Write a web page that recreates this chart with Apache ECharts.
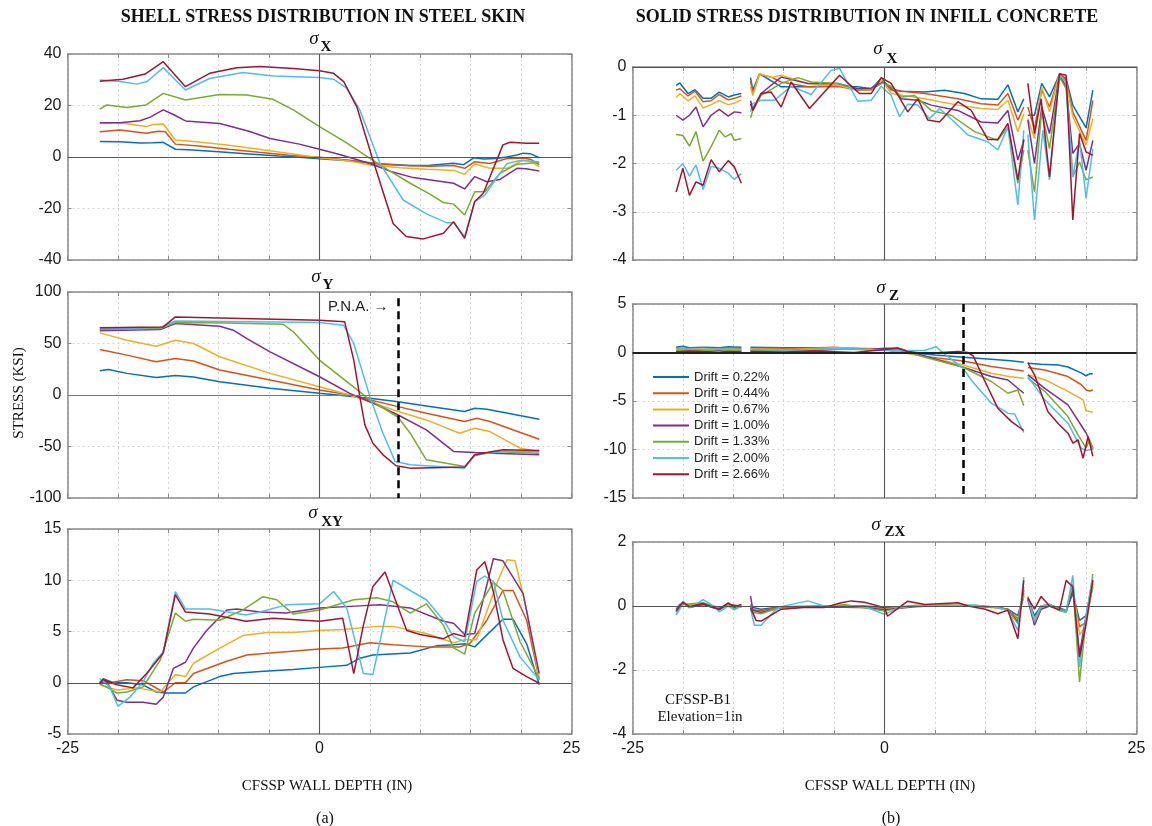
<!DOCTYPE html>
<html><head><meta charset="utf-8">
<script src="https://cdn.jsdelivr.net/npm/echarts@6/dist/echarts.min.js"></script>
<style>html,body{margin:0;padding:0;background:#fff}#main{width:1152px;height:826px}</style>
</head><body><div id="main"></div>
<script>
const DRIFTS = ['Drift = 0.22%','Drift = 0.44%','Drift = 0.67%','Drift = 1.00%','Drift = 1.33%','Drift = 2.00%','Drift = 2.66%'];
const COLORS = ['#0072BD','#D95319','#EDB120','#7E2F8E','#77AC30','#4DBEEE','#A2142F'];
const X_TICK_LABELS = [-25, 0, 25];
const PNA_DEPTH = 7.8;
const GAP = null;

// Shell (steel skin) sigma X
const shellSX = [
 [[-21.8,6.0],[-19.8,5.9],[-17.8,5.4],[-16.5,5.5],[-15.5,5.7],[-14.3,3.0],[-13,2.8],[-10,2.0],[-7,1.2],[-4,0.4],[-2,-0.1],[0,-0.7],[3,-1.5],[6,-2.6],[9,-3.3],[11,-3.2],[13.3,-2.4],[14.3,-3.0],[15.3,-0.3],[16.3,-0.8],[17.5,-0.6],[18.6,0],[19.6,0.8],[20.2,1.5],[20.9,1.3],[21.8,-0.3]],
 [[-21.8,9.8],[-19.8,10.5],[-17.2,9.2],[-16,10.0],[-15.3,9.8],[-14.3,5.0],[-12,4.3],[-9,3.0],[-6,1.8],[-3,0.7],[0,-0.1],[3,-1.3],[6,-2.8],[9,-3.4],[11,-3.6],[13.3,-3.3],[14.4,-4.4],[15.4,-1.8],[16.9,-2.5],[18.6,-0.6],[20.2,-0.4],[21,-1.0],[21.8,-3.0]],
 [[-21.8,13.1],[-19.8,13.3],[-17.2,11.8],[-16.5,12.6],[-15.5,12.8],[-14.3,6.6],[-12,5.8],[-9,4.6],[-6,3.0],[-3,1.4],[0,-0.3],[3,-1.6],[5,-3.1],[8,-4.2],[10.6,-4.8],[13.3,-5.2],[14.4,-6.7],[15.4,-2.7],[16.9,-4.4],[18.6,-4.4],[20.2,-1.2],[21,-1.8],[21.8,-3.8]],
 [[-21.8,13.3],[-19.8,13.3],[-17.8,14.1],[-16.8,15.5],[-15.5,18.3],[-14.5,16.5],[-13.3,14.0],[-9.9,13.0],[-7,10],[-4.9,7.2],[-2,5],[0,3.0],[2,1],[5,-2.5],[7,-5.5],[9.3,-8.0],[13.3,-10.2],[14.4,-12.4],[15.4,-7.6],[16.6,-9.6],[17.9,-8.7],[19.6,-4.4],[20.5,-4.6],[21.8,-5.4]],
 [[-21.8,18.6],[-21.1,20.2],[-19.1,19.2],[-17.2,20.2],[-15.5,24.7],[-13.3,22.1],[-9.9,24.3],[-7.2,24.1],[-4.6,22.4],[-2.6,18.3],[0,11.8],[2.5,6],[5,-0.5],[7,-5.5],[9,-10.2],[11,-14.5],[12.3,-17.7],[13.3,-18.3],[14.4,-22.5],[15.4,-13.5],[16.4,-13.5],[17.9,-6.3],[19.6,-2.8],[21.8,-2.1]],
 [[-21.8,29.9],[-19.8,29.3],[-18.1,28.3],[-17.1,29.3],[-15.5,34.7],[-13.3,26],[-10.9,30.5],[-7.6,32.8],[-4.6,31.5],[0,30.9],[1.4,30.2],[2.7,26.7],[4,18.3],[6,-2.5],[8.3,-16.7],[10.6,-22.1],[12.6,-25.5],[13.3,-25.5],[14.4,-30.9],[15.4,-17.3],[16.4,-14.8],[18.6,-2.5],[19.9,-1.4],[21.8,-1.8]],
 [[-21.8,29.4],[-19.5,30.2],[-17.3,32.2],[-15.5,37],[-13.3,27.3],[-10.9,32.5],[-8.2,34.7],[-5.9,35.1],[-2.6,34.4],[0,33.5],[1.4,32.5],[2.4,29.3],[3.7,19.5],[5.2,0.1],[7.3,-25.8],[8.6,-30.9],[10.3,-31.8],[12.3,-29.6],[13.3,-25.1],[14.4,-31.6],[15.4,-17.3],[16.25,-14.1],[18.2,4.7],[18.9,5.7],[20.55,5.3],[21.8,5.3]]
];

// Shell sigma Y
const shellSY = [
 [[-21.8,23.5],[-20.95,24.8],[-19.1,21],[-16.2,17.1],[-14.3,19],[-12.5,17.5],[-9.9,12.9],[-4.9,6.5],[0,1.6],[5,-3.2],[7.8,-6.5],[10.6,-10.6],[14.4,-16.1],[15.4,-12.9],[16.6,-13.9],[21.8,-23.5]],
 [[-21.8,44.2],[-19.1,38.7],[-16.2,32.3],[-14.3,35.5],[-12.5,33],[-9.9,24.2],[-4.9,14.5],[0,4.8],[3,0],[7.8,-11.3],[10.6,-17.7],[14.4,-25.8],[15.6,-22.6],[16.9,-25.8],[21.8,-42.9]],
 [[-21.8,60.3],[-19.1,53.2],[-16.2,47.4],[-14.3,53.2],[-12.5,50],[-9.9,37.1],[-4.9,21],[0,8.1],[3,0],[7.8,-16.1],[10.6,-24.2],[13.9,-37.1],[15.4,-32.3],[16.9,-35.5],[19.9,-51.6],[21.8,-54.8]],
 [[-21.8,62.3],[-15.8,63.5],[-14.3,69.4],[-9.9,66.8],[-8.55,62.9],[-7.2,54.8],[-4.9,41.9],[0,17.7],[3,1.6],[5,-6.5],[7.8,-19.4],[10.6,-33.9],[13.3,-54.8],[15.4,-55.8],[17.25,-56.5],[21.8,-58.1]],
 [[-21.8,63.5],[-15.8,64.5],[-14.3,70.3],[-9.2,70],[-3.6,68.7],[-2.6,61.3],[0,33.9],[5,-4.8],[7.8,-21.6],[9,-37.1],[10.6,-62.9],[14.4,-69.4],[15.4,-59],[17.25,-54.8],[21.8,-56.5]],
 [[-21.8,64.5],[-15.8,65.5],[-14.3,71.9],[0,70.3],[2.4,67.7],[3.4,50],[5,-1.6],[6.3,-37.1],[7.5,-64.5],[9,-67.7],[14.4,-71],[15.4,-58],[18.2,-54.8],[21.8,-54.8]],
 [[-21.8,65.2],[-15.5,66.1],[-14.3,75.8],[0,72.6],[2.5,71],[3.4,33.9],[4.0,-1.6],[4.5,-29],[5.3,-46.8],[6.3,-58.1],[7.6,-68.7],[9,-71],[14.4,-70],[15.4,-58],[18.2,-53.2],[21.8,-53.9]]
];

// Shell sigma XY
const shellSXY = [
 [[-21.8,0],[-21.45,0.4],[-20.45,0],[-19.1,0],[-17.5,-0.2],[-16.2,-0.9],[-15.2,-1.0],[-13.3,-1.0],[-12.5,-0.4],[-9.9,0.6],[-8.55,0.9],[-5.9,1.1],[-2.6,1.3],[0,1.5],[2.7,1.7],[4,2.4],[5.3,2.7],[9,2.9],[11.6,3.6],[13.3,3.7],[14.4,3.8],[15.4,3.5],[18.2,6.2],[19.2,6.2],[20.55,3.8],[21.8,-0.2]],
 [[-21.8,0.1],[-20.8,0],[-19.1,0.3],[-17.5,0.2],[-15.5,-0.9],[-14.3,0],[-13.3,0],[-12.5,0.9],[-9.2,2.1],[-7.2,2.7],[-4.9,2.9],[0,3.3],[2.3,3.4],[5,3.9],[7.3,3.7],[10.6,3.5],[13.9,3.5],[14.9,3.8],[16.6,6.1],[18.2,9.0],[19.2,9.0],[20.55,6.1],[21.8,0.3]],
 [[-21.8,-0.2],[-20.1,-0.7],[-18.1,-0.5],[-15.8,-0.9],[-14.3,0.8],[-13.3,0.6],[-12.5,1.9],[-10.2,3.2],[-7.6,4.6],[-5.2,4.9],[-2.6,4.9],[0,5.1],[2.3,5.2],[5.7,5.5],[7.3,5.5],[10.6,4.8],[13.3,3.9],[14.4,4.2],[15.6,4.2],[17.6,9.7],[18.6,12],[19.4,11.9],[20.55,7.1],[21.8,0.4]],
 [[-21.8,0],[-21.1,0.1],[-20.1,-1.7],[-19.1,-1.9],[-17.5,-1.9],[-16.2,-2.1],[-15.5,-1.4],[-14.5,1.4],[-13.3,2.0],[-12.5,3.4],[-11.2,5.1],[-9.2,7.1],[-8.2,7.2],[-5.9,6.9],[-3.3,6.8],[0,7.3],[4,7.5],[6,7.6],[9,7.3],[12.3,6.0],[13.3,5.8],[14.4,4.7],[15.4,4.8],[17.25,12.1],[18.2,11.9],[20.2,8.7],[21.8,0.9]],
 [[-21.8,-0.1],[-20.8,-0.6],[-20.1,-1.0],[-19.1,-0.9],[-17.5,-0.4],[-15.8,2.2],[-14.3,6.8],[-13.3,6.0],[-12.5,6.2],[-9.9,6.1],[-7.6,7.1],[-5.6,8.4],[-4.25,8.1],[-2.6,6.7],[0,7.1],[3.4,8.1],[5.7,8.3],[7.3,7.9],[9,6.8],[10.6,7.7],[12.3,5.6],[13.3,3.4],[14.4,2.8],[15.4,6.8],[17.25,9.8],[18.2,9.0],[19.9,4.0],[21.8,0.4]],
 [[-21.8,0.4],[-20.8,-0.4],[-20.0,-2.3],[-18.8,-1.4],[-17.5,0.1],[-16.5,1.9],[-15.5,3.0],[-14.3,8.9],[-13.3,7.2],[-10.9,7.2],[-7.3,6.6],[-5.9,6.9],[-3.3,7.6],[0,7.7],[1.4,8.9],[2.7,7.3],[4.35,0.9],[5.3,0.8],[7.3,10.0],[9,9.0],[10.6,8.1],[12.3,6.1],[13.3,4.5],[14.4,4.0],[15.6,9.9],[16.4,10.4],[17.25,9.9],[18.2,6.1],[19.9,2.5],[21.8,0.3]],
 [[-21.8,0],[-21.45,0.3],[-20.1,-0.2],[-18.5,-0.5],[-17.15,0.9],[-15.5,2.9],[-14.3,8.6],[-13.3,6.9],[-10.9,6.7],[-7.3,6.0],[-4.6,6.3],[0,6.0],[2.3,6.3],[3.4,0.9],[4.35,5.6],[5.3,9.4],[6.5,10.8],[8.65,5.1],[10,4.7],[12.3,4.3],[13.3,4.8],[14.4,4.5],[15.6,11.0],[16.4,11.8],[17.25,8.9],[18.2,4.2],[19.2,1.4],[20.55,0.6],[21.8,-0.05]]
];

// Solid (infill concrete) sigma X
const solidSX = [
 [[-20.67,-0.38],[-20.3,-0.33],[-19.5,-0.55],[-18.8,-0.47],[-18.0,-0.65],[-17.2,-0.65],[-16.4,-0.52],[-15.5,-0.62],[-14.9,-0.58],[-14.2,-0.55],GAP,
  [-13.29,-0.22],[-13.06,-0.48],[-12.4,-0.14],[-10.25,-0.41],[-7.6,-0.41],[-4.6,-0.4],[-2.65,-0.41],[-1.32,-0.45],[-0.33,-0.24],[0.66,-0.45],[1.65,-0.5],[3.97,-0.52],[5.95,-0.48],[7.94,-0.55],[9.59,-0.66],[11.24,-0.67],[12.24,-0.37],[13.23,-0.93],[13.82,-0.66],GAP,
  [14.22,-1.0],[14.88,-1.0],[15.6,-0.34],[16.37,-0.62],[17.36,-0.15],[18.02,-0.24],[18.68,-0.79],[20.0,-1.26],[20.67,-0.48]],
 [[-20.67,-0.48],[-20.3,-0.45],[-19.5,-0.6],[-18.8,-0.5],[-18.0,-0.72],[-17.2,-0.7],[-16.4,-0.57],[-15.5,-0.68],[-14.9,-0.65],[-14.2,-0.6],GAP,
  [-13.29,-0.28],[-13.06,-0.55],[-12.4,-0.15],[-11.24,-0.21],[-10.25,-0.31],[-7.6,-0.41],[-4.6,-0.4],[-2.65,-0.48],[-1.32,-0.48],[-0.33,-0.26],[0.66,-0.48],[3.97,-0.55],[7.28,-0.66],[9.59,-0.76],[11.24,-0.79],[12.24,-0.55],[13.23,-1.1],[13.82,-0.83],GAP,
  [14.22,-0.83],[14.88,-1.28],[15.6,-0.48],[16.37,-0.83],[17.36,-0.14],[18.02,-0.28],[18.68,-0.93],[20.0,-1.52],[20.67,-0.69]],
 [[-20.67,-0.63],[-20.3,-0.55],[-19.5,-0.7],[-18.8,-0.6],[-18.0,-0.85],[-17.2,-0.78],[-16.4,-0.7],[-15.5,-0.78],[-14.9,-0.75],[-14.2,-0.68],GAP,
  [-13.29,-0.41],[-13.06,-0.59],[-12.4,-0.14],[-11.24,-0.22],[-10.25,-0.17],[-7.6,-0.34],[-4.6,-0.38],[-2.65,-0.48],[-1.32,-0.48],[-0.33,-0.26],[0.66,-0.55],[3.97,-0.66],[7.28,-0.79],[9.59,-0.86],[11.24,-0.88],[12.24,-0.69],[13.23,-1.34],[13.82,-0.97],GAP,
  [14.22,-1.07],[14.88,-1.48],[15.6,-0.41],[16.37,-0.93],[17.36,-0.15],[18.02,-0.34],[18.68,-1.03],[20.0,-1.62],[20.67,-1.07]],
 [[-20.67,-1.0],[-20.0,-1.1],[-19.35,-1.0],[-18.7,-0.83],[-18.0,-1.24],[-17.2,-1.0],[-16.4,-0.88],[-15.5,-1.02],[-14.9,-0.93],[-14.2,-0.95],GAP,
  [-13.29,-0.7],[-13.06,-0.86],[-12.24,-0.55],[-10.25,-0.21],[-7.6,-0.34],[-4.6,-0.34],[-2.65,-0.45],[-1.32,-0.44],[-0.17,-0.31],[0.66,-0.41],[1.65,-0.66],[3.31,-0.69],[4.63,-0.79],[7.28,-0.9],[9.59,-1.14],[11.24,-1.16],[12.24,-0.9],[13.23,-1.93],[13.82,-1.52],GAP,
  [14.22,-1.1],[14.88,-2.0],[15.6,-0.83],[16.37,-1.38],[17.36,-0.17],[18.02,-0.41],[18.68,-1.79],[19.35,-1.59],[20.0,-2.14],[20.67,-1.52]],
 [[-20.67,-1.4],[-20.0,-1.42],[-19.35,-1.64],[-18.7,-1.34],[-18.0,-1.95],[-17.2,-1.65],[-16.4,-1.31],[-15.8,-1.45],[-15.2,-1.38],[-14.9,-1.52],[-14.2,-1.48],GAP,
  [-13.29,-1.05],[-13.06,-0.9],[-12.24,-0.59],[-10.25,-0.34],[-8.6,-0.22],[-7.28,-0.31],[-4.63,-0.34],[-2.65,-0.48],[-1.32,-0.47],[-0.17,-0.33],[0.66,-0.41],[1.65,-0.62],[2.98,-0.59],[4.63,-0.9],[6.61,-1.0],[8.93,-1.34],[11.24,-1.52],[12.24,-1.24],[13.23,-2.41],[13.82,-1.72],GAP,
  [14.22,-1.72],[14.88,-2.59],[15.6,-0.9],[16.37,-1.69],[17.36,-0.21],[18.02,-0.45],[18.68,-2.28],[19.35,-1.97],[20.0,-2.34],[20.67,-2.28]],
 [[-20.67,-2.14],[-20.0,-2.0],[-19.35,-2.26],[-18.7,-2.03],[-18.0,-2.54],[-17.2,-2.06],[-16.4,-2.1],[-15.5,-2.2],[-14.9,-2.33],[-14.2,-2.21],GAP,
  [-13.29,-0.93],[-13.06,-0.76],[-12.24,-0.69],[-10.91,-0.69],[-9.26,-0.4],[-7.28,-0.57],[-5.29,-0.07],[-4.46,-0.03],[-3.64,-0.34],[-2.65,-0.71],[-1.32,-0.69],[-0.33,-0.4],[0.66,-0.59],[1.49,-1.03],[2.31,-0.77],[3.31,-0.79],[4.46,-1.07],[5.46,-0.86],[6.94,-1.14],[8.27,-1.41],[10.25,-1.55],[11.24,-1.72],[12.24,-1.24],[13.23,-2.86],[13.82,-1.31],GAP,
  [14.22,-1.4],[14.88,-3.17],[15.71,-1.31],[16.37,-2.34],[17.36,-0.17],[18.02,-0.31],[18.68,-2.28],[19.35,-1.52],[20.0,-2.72],[20.67,-1.69]],
 [[-20.67,-2.59],[-20.0,-2.1],[-19.35,-2.66],[-18.7,-2.38],[-18.0,-2.45],[-17.2,-1.92],[-16.4,-2.17],[-15.5,-1.94],[-14.9,-2.07],[-14.2,-2.41],GAP,
  [-13.29,-0.76],[-13.06,-0.9],[-12.24,-0.55],[-11.24,-0.52],[-10.25,-0.83],[-9.26,-0.31],[-7.44,-0.86],[-4.46,-0.17],[-2.48,-0.55],[-1.32,-0.55],[-0.33,-0.22],[0.66,-0.34],[2.31,-0.93],[3.31,-0.66],[4.3,-1.1],[5.46,-1.14],[7.28,-0.72],[8.6,-0.9],[10.25,-1.5],[11.24,-1.5],[12.24,-1.17],[13.23,-2.34],[13.82,-1.5],GAP,
  [14.22,-0.34],[14.88,-1.38],[15.54,-0.66],[16.37,-2.28],[17.36,-0.14],[18.02,-0.17],[18.68,-3.17],[19.35,-1.38],[20.0,-1.76],[20.67,-1.83]]
];

// Solid sigma Z
const solidSZ = [
 [[-20.67,0.55],[-20.0,0.65],[-19.35,0.5],[-18.0,0.55],[-16.4,0.5],[-15.5,0.6],[-14.2,0.55],GAP,
  [-13.29,0.55],[-10,0.5],[-6,0.5],[-3,0.4],[0,0.27],[2,0.05],[5,-0.25],[7.8,-0.5],[10.6,-0.7],[12.5,-0.85],[13.82,-1.0],GAP,
  [14.22,-1.1],[15.5,-1.2],[17.25,-1.3],[18.2,-1.5],[19.5,-2.1],[20.0,-2.4],[20.35,-2.2],[20.67,-2.2]],
 [[-20.67,0.45],[-20.0,0.4],[-18.7,0.5],[-17.2,0.4],[-15.5,0.45],[-14.2,0.4],GAP,
  [-13.29,0.45],[-9,0.4],[-5,0.55],[-2,0.35],[0,0.3],[2,0],[4,-0.4],[7.8,-0.87],[10.6,-1.45],[13.82,-1.9],GAP,
  [14.22,-1.55],[15.9,-1.8],[18.2,-2.48],[19.5,-3.3],[20.0,-3.86],[20.35,-3.96],[20.67,-3.86]],
 [[-20.67,0.35],[-19.35,0.3],[-18.0,0.4],[-16.4,0.3],[-15.5,0.35],[-14.2,0.3],GAP,
  [-13.29,0.35],[-9,0.3],[-5,0.5],[-2,0.45],[0,0.35],[2,-0.05],[4,-0.42],[7.8,-1.28],[10.6,-2.14],[12.5,-2.5],[13.82,-2.65],GAP,
  [14.22,-2.3],[15.9,-2.8],[18.2,-4.0],[19.7,-4.88],[20.0,-6.0],[20.67,-6.15]],
 [[-20.67,0.1],[-20.0,0.3],[-19.35,0.05],[-18.7,0.25],[-18.0,0.1],[-16.4,0.2],[-15.5,0.05],[-14.2,0.15],GAP,
  [-13.29,0.15],[-10,0.3],[-7,0.2],[-4,0.35],[-1.5,0.3],[0,0.44],[1.3,0.44],[4,-0.35],[7.8,-1.52],[10.6,-2.48],[12.24,-2.83],[13.82,-4.2],GAP,
  [14.22,-2.3],[15.9,-3.7],[18.2,-5.4],[20.0,-8.3],[20.67,-9.85]],
 [[-20.67,0.2],[-19.35,0.25],[-18.0,0.15],[-16.4,0.3],[-15.5,0.2],[-14.2,0.25],GAP,
  [-13.29,0.25],[-10,0.2],[-6,0.35],[-2,0.3],[0,0.25],[1.3,0.35],[4,-0.5],[7.8,-1.52],[10.6,-2.99],[12.24,-4.2],[13.23,-3.86],[13.82,-5.5],GAP,
  [14.22,-2.65],[15.9,-4.0],[18.2,-6.6],[19.2,-8.5],[20.0,-9.85],[20.35,-9.0],[20.67,-10.0]],
 [[-20.67,0.3],[-19.35,0.35],[-18.0,0.3],[-16.4,0.35],[-14.2,0.3],GAP,
  [-13.29,0.3],[-8,0.25],[-4,0.4],[0,0.2],[2,0.2],[4,0.2],[5.1,0.6],[5.95,-0.15],[7.8,-1.63],[8.6,-2.83],[10.6,-5.23],[12.24,-6.26],[12.9,-6.33],[13.82,-8.25],GAP,
  [14.22,-2.48],[15.9,-4.88],[18.2,-7.29],[19.5,-9.86],[20.0,-10.1],[20.67,-9.96]],
 [[-20.67,0.05],[-19.35,0.15],[-18.0,0.1],[-16.4,0.0],[-15.5,0.1],[-14.2,0.05],GAP,
  [-13.29,0.1],[-10,0.05],[-7,0.15],[-3,0.0],[0,0.3],[1.3,0.47],[2.3,0.1],[4,-0.1],[7.28,0.1],[8.27,0.0],[8.8,-0.35],[9.9,-2.83],[11.24,-5.74],[12.57,-7.1],[13.82,-8.04],GAP,
  [14.22,-1.04],[14.88,-2.3],[16.2,-6.08],[17.2,-7.29],[18.2,-8.32],[18.7,-9.35],[19.2,-9.0],[19.7,-10.9],[20.2,-8.66],[20.67,-10.7]]
];

// Solid sigma ZX
const solidSZX = [
 [[-20.67,-0.1],[-20.3,0.05],[-20.0,0.1],[-19.35,-0.05],[-18.0,0.05],[-16.4,-0.1],[-15.5,0.05],[-14.9,-0.05],[-14.2,0.03],GAP,
  [-13.29,0.05],[-13.06,-0.05],[-12.24,-0.1],[-10.25,-0.02],[-6,0],[-2,0],[0,-0.05],[3,0],[6,0],[9,0],[11.24,-0.05],[12.24,-0.1],[13.23,-0.3],[13.82,0.4],GAP,
  [14.22,0.2],[14.88,-0.3],[15.54,0],[16.37,0.02],[17.36,-0.05],[18.02,-0.15],[18.68,0.4],[19.35,-0.45],[20.0,-0.3],[20.67,0.6]],
 [[-20.67,-0.15],[-20.0,0.08],[-19.35,-0.03],[-18.0,0.05],[-16.4,-0.08],[-15.5,0.05],[-14.2,0.0],GAP,
  [-13.29,0.0],[-13.06,-0.12],[-12.24,-0.15],[-10.25,-0.03],[-6,-0.02],[-2,-0.02],[0,-0.08],[3,0],[6,0],[9,0],[11.24,-0.05],[12.24,-0.1],[13.23,-0.4],[13.82,0.3],GAP,
  [14.22,0.25],[14.88,-0.4],[15.54,0],[16.37,0.05],[17.36,-0.1],[18.02,-0.15],[18.68,0.5],[19.35,-0.65],[20.0,-0.5],[20.67,0.7]],
 [[-20.67,-0.12],[-20.0,0.05],[-18.0,0.04],[-16.4,-0.06],[-15.5,0.03],[-14.2,0.0],GAP,
  [-13.29,0.05],[-13.06,-0.15],[-12.24,-0.2],[-10.25,-0.05],[-6,-0.03],[-2,-0.05],[0,-0.1],[3,0],[6,0.02],[9,0],[11.24,-0.07],[12.24,-0.12],[13.23,-0.45],[13.82,0.35],GAP,
  [14.22,0.22],[14.88,-0.45],[15.54,-0.05],[16.37,0.05],[17.36,-0.1],[18.02,-0.15],[18.68,0.6],[19.35,-0.9],[20.0,-0.6],[20.67,0.7]],
 [[-20.67,-0.2],[-20.0,0.1],[-19.35,-0.02],[-18.0,0.05],[-16.4,-0.12],[-15.5,0.05],[-14.2,-0.02],GAP,
  [-13.29,0.31],[-13.06,-0.13],[-12.24,-0.2],[-10.25,-0.05],[-6,-0.03],[-2,-0.05],[0,-0.12],[3,-0.02],[6,0.02],[9,0],[11.24,-0.05],[12.24,-0.12],[13.23,-0.5],[13.82,0.5],GAP,
  [14.22,0.2],[14.88,-0.6],[15.54,-0.1],[16.37,0.0],[17.36,-0.1],[18.02,-0.2],[18.68,0.5],[19.35,-1.5],[20.0,-0.3],[20.67,0.8]],
 [[-20.67,-0.18],[-20.0,0.05],[-18.0,0.1],[-16.4,-0.05],[-15.5,0.04],[-14.9,-0.08],[-14.2,-0.02],GAP,
  [-13.29,-0.05],[-13.06,-0.2],[-12.24,-0.24],[-10.25,-0.03],[-6,-0.02],[-4,0.05],[0,-0.16],[3,0.02],[6,0.02],[9,0.02],[11.24,-0.05],[12.24,-0.12],[13.23,-0.55],[13.82,0.6],GAP,
  [14.22,0.3],[14.88,-0.5],[15.54,-0.05],[16.37,0.05],[17.36,-0.1],[18.02,-0.15],[18.68,0.7],[19.35,-2.37],[20.0,-0.4],[20.67,1.0]],
 [[-20.67,-0.28],[-20.3,-0.1],[-20.0,0.15],[-19.35,-0.05],[-18.7,0.05],[-18.0,0.2],[-17.2,0.05],[-16.4,-0.18],[-15.5,0.0],[-14.9,-0.12],[-14.2,0.0],GAP,
  [-13.29,-0.1],[-12.9,-0.6],[-12.24,-0.6],[-10.9,-0.15],[-10.25,-0.02],[-7.6,0.16],[-6,0],[-2,-0.02],[0,-0.26],[1.5,-0.05],[3,0],[6,0],[9,0.02],[11.24,-0.05],[12.24,-0.15],[13.23,-0.76],[13.82,0.9],GAP,
  [14.22,0.25],[14.88,-0.45],[15.54,0.0],[16.37,0.05],[17.36,-0.15],[18.02,-0.2],[18.68,0.96],[19.35,-1.9],[20.0,-0.3],[20.67,0.9]],
 [[-20.67,-0.15],[-20.0,0.12],[-19.35,-0.02],[-18.0,0.08],[-17.2,-0.02],[-16.4,-0.1],[-15.5,0.1],[-14.9,-0.03],[-14.2,0.05],GAP,
  [-13.29,-0.05],[-12.74,-0.45],[-12.24,-0.47],[-10.25,-0.1],[-8,-0.05],[-6,-0.05],[-4.3,0.1],[-3.3,0.16],[-2,0.12],[0,-0.05],[0.3,-0.32],[2.3,0.15],[4,0.05],[7.3,0.1],[8.3,0],[10,-0.1],[11.24,-0.24],[12.24,-0.13],[13.23,-1.02],[13.82,0.8],GAP,
  [14.22,0.25],[14.88,-0.1],[15.54,0.3],[16.37,0.0],[17.36,-0.13],[18.02,0.8],[18.68,0.6],[19.35,-1.6],[20.0,-0.55],[20.67,0.8]]
];

// ---------- layout ----------
const PANELS = [
  {data: shellSX,  rect:[67.5,54,504,206],  y:[-40,40,20],  sig:[314,39],  sub:'X',  subAt:[326,47],  zeroH:[1.2,'#555']},
  {data: solidSX,  rect:[632.5,67,504,193], y:[-4,0,1],     sig:[878,49],  sub:'X',  subAt:[892,59],  zeroH:[1.2,'#555']},
  {data: shellSY,  rect:[67.5,292,504,206], y:[-100,100,50],sig:[316,277], sub:'Y',  subAt:[328,285], zeroH:[1.2,'#777'], pna:[94,-100]},
  {data: solidSZ,  rect:[632.5,304,504,194],y:[-15,5,5],    sig:[881,288], sub:'Z',  subAt:[894,296], zeroH:[2.2,'#222'], pna:[5,-15]},
  {data: shellSXY, rect:[67.5,529,504,205], y:[-5,15,5],    sig:[313,513], sub:'XY', subAt:[332,522], zeroH:[1.2,'#555'], bottom:true},
  {data: solidSZX, rect:[632.5,542,504,192],y:[-4,2,2],     sig:[876,525], sub:'ZX', subAt:[895,532], zeroH:[1.2,'#555'], bottom:true}
];

const SANS = '"Liberation Sans", Arial, Helvetica, sans-serif';
const SERIF = '"Liberation Serif", "Times New Roman", serif';
const grid=[], xAxis=[], yAxis=[], series=[], graphic=[];
const boxLine = {show:true, onZero:false, lineStyle:{color:'#8a8a8a', width:1.5}};
const tick = {show:true, inside:true, length:4, lineStyle:{color:'#8a8a8a', width:1}};
const split = {show:true, lineStyle:{color:'#d4d4d4', width:1, type:[2,3]}};

PANELS.forEach((p,i)=>{
  grid.push({left:p.rect[0], top:p.rect[1], width:p.rect[2], height:p.rect[3], containLabel:false});
  xAxis.push({type:'value', gridIndex:i, position:'bottom', min:-25, max:25, interval:5,
    axisLine:boxLine, axisTick:tick, splitLine:split,
    axisLabel:{show:!!p.bottom, margin:7, fontSize:16, fontFamily:SANS, color:'#1a1a1a',
      formatter:v=>X_TICK_LABELS.includes(v)?String(v):''}});
  xAxis.push({type:'value', gridIndex:i, position:'top', min:-25, max:25, interval:5,
    axisLine:boxLine, axisTick:tick, splitLine:{show:false}, axisLabel:{show:false}});
  yAxis.push({type:'value', gridIndex:i, position:'left', min:p.y[0], max:p.y[1], interval:p.y[2],
    axisLine:boxLine, axisTick:tick, splitLine:split,
    axisLabel:{margin:6, fontSize:16, fontFamily:SANS, color:'#1a1a1a'}});
  yAxis.push({type:'value', gridIndex:i, position:'right', min:p.y[0], max:p.y[1], interval:p.y[2],
    axisLine:boxLine, axisTick:tick, splitLine:{show:false}, axisLabel:{show:false}});
  // zero reference lines
  series.push({type:'line', xAxisIndex:2*i, yAxisIndex:2*i, data:[[0,0]], symbol:'none', silent:true, z:1,
    lineStyle:{width:0},
    markLine:{silent:true, symbol:'none', label:{show:false}, animation:false,
      data:[{xAxis:0, lineStyle:{color:'#555', width:1.1, type:'solid'}},
            {yAxis:0, lineStyle:{color:p.zeroH[1], width:p.zeroH[0], type:'solid'}}]}});
  p.data.forEach((d,k)=>{
    series.push({name:DRIFTS[k], type:'line', xAxisIndex:2*i, yAxisIndex:2*i, z:2,
      data:d.map(pt=>pt===GAP?['-','-']:pt), symbol:'none', showSymbol:false, connectNulls:false,
      lineStyle:{width:1.5, color:COLORS[k]}, itemStyle:{color:COLORS[k]}, animation:false});
  });
  if (p.pna) {
    series.push({type:'line', xAxisIndex:2*i, yAxisIndex:2*i, data:[[0,0]], symbol:'none', silent:true, z:5,
      lineStyle:{width:0},
      markLine:{silent:true, symbol:'none', label:{show:false}, animation:false,
        lineStyle:{color:'#000', width:2.5, type:[8,5]},
        data:[[{coord:[PNA_DEPTH,p.pna[0]]},{coord:[PNA_DEPTH,p.pna[1]]}]]}});
  }
  graphic.push({type:'text', x:p.sig[0], y:p.sig[1], silent:true,
    style:{text:'σ', font:'italic 19px '+SERIF, fill:'#111', align:'center', verticalAlign:'middle'}});
  graphic.push({type:'text', x:p.subAt[0], y:p.subAt[1], silent:true,
    style:{text:p.sub, font:'bold 15px '+SERIF, fill:'#111', align:'center', verticalAlign:'middle'}});
});

function txt(x,y,text,font,extra){
  graphic.push(Object.assign({type:'text', x, y, silent:true,
    style:{text, font, fill:'#111', align:'center', verticalAlign:'middle'}}, extra||{}));
}
txt(323,17,'SHELL STRESS DISTRIBUTION IN STEEL SKIN','bold 18px '+SERIF);
txt(867,17,'SOLID STRESS DISTRIBUTION IN INFILL CONCRETE','bold 18px '+SERIF);
txt(19,393,'STRESS (KSI)','15px '+SERIF,{rotation:Math.PI/2});
txt(327,786,'CFSSP WALL DEPTH (IN)','15px '+SERIF);
txt(890,786,'CFSSP WALL DEPTH (IN)','15px '+SERIF);
txt(325,819,'(a)','16px '+SERIF);
txt(891,819,'(b)','16px '+SERIF);
graphic.push({type:'text', x:328, y:307, silent:true,
  style:{text:'P.N.A. →', font:'15px '+SANS, fill:'#222', align:'left', verticalAlign:'middle'}});
txt(698,700,'CFSSP-B1','15px '+SERIF);
txt(700,717,'Elevation=1in','15px '+SERIF);

const chart = echarts.init(document.getElementById('main'), null, {renderer:'canvas'});
chart.setOption({
  animation:false,
  backgroundColor:'#fff',
  grid, xAxis, yAxis, series, graphic,
  legend:{data:DRIFTS, orient:'vertical', left:652, top:370, itemWidth:36, itemHeight:14, itemGap:2.2,
    selectedMode:false, padding:0,
    itemStyle:{opacity:0, borderWidth:0},
    lineStyle:{width:2},
    textStyle:{fontSize:13, fontFamily:SANS, color:'#222', lineHeight:14}}
});
</script></body></html>
